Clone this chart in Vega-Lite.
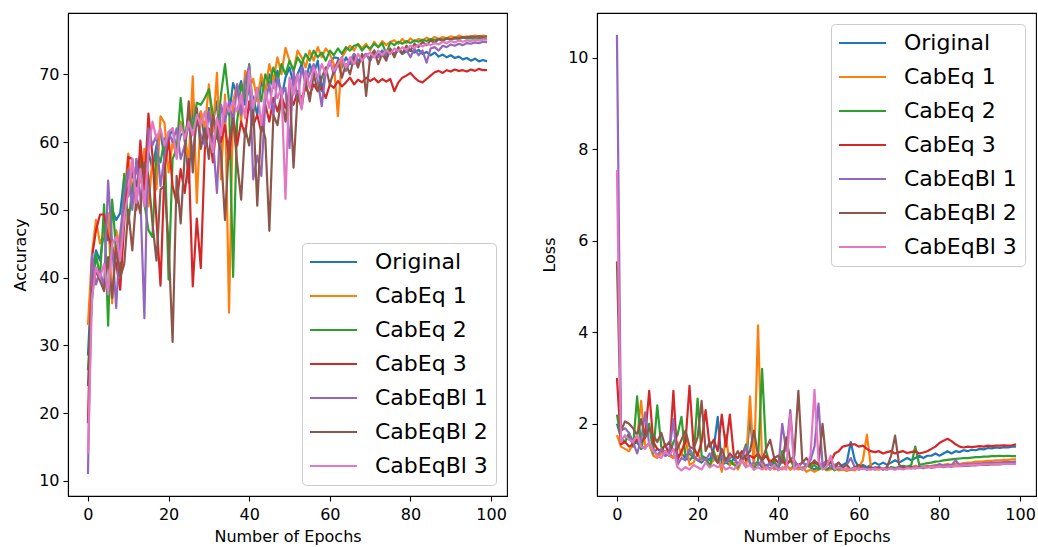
{
"$schema":"https://vega.github.io/schema/vega-lite/v6.json",
"padding":{"left":12,"top":12,"right":2,"bottom":2},
"spacing":33,
"config":{
"font":"DejaVu Sans",
"view":{"stroke":"#000000","strokeWidth":1.1},
"axis":{"domainColor":"#000000","domainWidth":1.1,"tickColor":"#000000","tickWidth":1.1,"tickSize":5,"labelColor":"#000000","titleColor":"#000000","labelFont":"DejaVu Sans","titleFont":"DejaVu Sans","labelFontSize":16,"titleFontSize":16,"titleFontWeight":"normal","grid":false},
"axisX":{"labelPadding":5,"titlePadding":6},
"axisY":{"labelPadding":4,"titlePadding":10}
},
"data":{"values":[
{"s":"Original","e":0,"a":28.5,"l":2},{"s":"Original","e":1,"a":40.5,"l":1.7},{"s":"Original","e":2,"a":44,"l":1.6},{"s":"Original","e":3,"a":42.5,"l":1.75},{"s":"Original","e":4,"a":47,"l":1.55},{"s":"Original","e":5,"a":45.5,"l":1.6},{"s":"Original","e":6,"a":50,"l":1.45},{"s":"Original","e":7,"a":48.5,"l":1.5},{"s":"Original","e":8,"a":49.5,"l":1.55},{"s":"Original","e":9,"a":55,"l":1.35},
{"s":"Original","e":10,"a":52,"l":1.45},{"s":"Original","e":11,"a":55.5,"l":1.4},{"s":"Original","e":12,"a":53.5,"l":1.3},{"s":"Original","e":13,"a":57,"l":1.35},{"s":"Original","e":14,"a":55,"l":1.25},{"s":"Original","e":15,"a":58.5,"l":1.3},{"s":"Original","e":16,"a":56,"l":1.35},{"s":"Original","e":17,"a":59.5,"l":1.25},{"s":"Original","e":18,"a":61.5,"l":1.2},{"s":"Original","e":19,"a":57.5,"l":1.3},
{"s":"Original","e":20,"a":60.5,"l":1.2},{"s":"Original","e":21,"a":62,"l":1.15},{"s":"Original","e":22,"a":58.5,"l":1.25},{"s":"Original","e":23,"a":61,"l":1.2},{"s":"Original","e":24,"a":61.5,"l":1.45},{"s":"Original","e":25,"a":54,"l":2.15},{"s":"Original","e":26,"a":66.5,"l":1.1},{"s":"Original","e":27,"a":62.5,"l":1.15},{"s":"Original","e":28,"a":64.5,"l":1.1},{"s":"Original","e":29,"a":60,"l":1.25},
{"s":"Original","e":30,"a":65,"l":1.1},{"s":"Original","e":31,"a":63,"l":1.2},{"s":"Original","e":32,"a":66,"l":1.05},{"s":"Original","e":33,"a":57,"l":2.2},{"s":"Original","e":34,"a":65.5,"l":1.1},{"s":"Original","e":35,"a":64,"l":1.15},{"s":"Original","e":36,"a":68.7,"l":1.05},{"s":"Original","e":37,"a":67,"l":1.1},{"s":"Original","e":38,"a":69,"l":1},{"s":"Original","e":39,"a":65.5,"l":1.15},
{"s":"Original","e":40,"a":68,"l":1.05},{"s":"Original","e":41,"a":66.5,"l":1.2},{"s":"Original","e":42,"a":64,"l":1.1},{"s":"Original","e":43,"a":69,"l":1},{"s":"Original","e":44,"a":67.5,"l":1.1},{"s":"Original","e":45,"a":70,"l":1.05},{"s":"Original","e":46,"a":68,"l":1},{"s":"Original","e":47,"a":70.5,"l":1.1},{"s":"Original","e":48,"a":66.5,"l":1.05},{"s":"Original","e":49,"a":69.5,"l":1},
{"s":"Original","e":50,"a":71,"l":1.05},{"s":"Original","e":51,"a":68.5,"l":1.1},{"s":"Original","e":52,"a":70,"l":1},{"s":"Original","e":53,"a":71.5,"l":1.05},{"s":"Original","e":54,"a":69,"l":1.1},{"s":"Original","e":55,"a":71.5,"l":1.05},{"s":"Original","e":56,"a":70,"l":1.1},{"s":"Original","e":57,"a":72,"l":1.15},{"s":"Original","e":58,"a":67.5,"l":1.6},{"s":"Original","e":59,"a":70.5,"l":1.2},
{"s":"Original","e":60,"a":71.5,"l":1.05},{"s":"Original","e":61,"a":72.5,"l":1.1},{"s":"Original","e":62,"a":72.4,"l":1.05},{"s":"Original","e":63,"a":71,"l":1.1},{"s":"Original","e":64,"a":72.5,"l":1.15},{"s":"Original","e":65,"a":71.5,"l":1.1},{"s":"Original","e":66,"a":73,"l":1.15},{"s":"Original","e":67,"a":72,"l":1.1},{"s":"Original","e":68,"a":72.5,"l":1.15},{"s":"Original","e":69,"a":73,"l":1.2},
{"s":"Original","e":70,"a":72,"l":1.15},{"s":"Original","e":71,"a":73.2,"l":1.2},{"s":"Original","e":72,"a":72.8,"l":1.25},{"s":"Original","e":73,"a":73.5,"l":1.2},{"s":"Original","e":74,"a":72.5,"l":1.25},{"s":"Original","e":75,"a":73.3,"l":1.3},{"s":"Original","e":76,"a":73,"l":1.25},{"s":"Original","e":77,"a":73.6,"l":1.3},{"s":"Original","e":78,"a":73,"l":1.3},{"s":"Original","e":79,"a":73.4,"l":1.35},
{"s":"Original","e":80,"a":73.5,"l":1.3},{"s":"Original","e":81,"a":73.2,"l":1.35},{"s":"Original","e":82,"a":73.6,"l":1.4},{"s":"Original","e":83,"a":73,"l":1.35},{"s":"Original","e":84,"a":73.3,"l":1.4},{"s":"Original","e":85,"a":72.8,"l":1.38},{"s":"Original","e":86,"a":73.2,"l":1.42},{"s":"Original","e":87,"a":72.6,"l":1.4},{"s":"Original","e":88,"a":72.9,"l":1.43},{"s":"Original","e":89,"a":72.5,"l":1.42},
{"s":"Original","e":90,"a":72.8,"l":1.45},{"s":"Original","e":91,"a":72.4,"l":1.44},{"s":"Original","e":92,"a":72.6,"l":1.47},{"s":"Original","e":93,"a":72.2,"l":1.46},{"s":"Original","e":94,"a":72.4,"l":1.48},{"s":"Original","e":95,"a":72,"l":1.47},{"s":"Original","e":96,"a":72.3,"l":1.49},{"s":"Original","e":97,"a":71.9,"l":1.48},{"s":"Original","e":98,"a":72.1,"l":1.5},{"s":"Original","e":99,"a":71.9,"l":1.5},
{"s":"CabEq 1","e":0,"a":33,"l":1.75},{"s":"CabEq 1","e":1,"a":43.5,"l":1.5},{"s":"CabEq 1","e":2,"a":48.5,"l":1.45},{"s":"CabEq 1","e":3,"a":45,"l":1.4},{"s":"CabEq 1","e":4,"a":46.5,"l":1.55},{"s":"CabEq 1","e":5,"a":49.5,"l":1.7},{"s":"CabEq 1","e":6,"a":36.2,"l":2.5},{"s":"CabEq 1","e":7,"a":47,"l":1.5},{"s":"CabEq 1","e":8,"a":44.5,"l":1.55},{"s":"CabEq 1","e":9,"a":52,"l":1.3},
{"s":"CabEq 1","e":10,"a":58.3,"l":1.25},{"s":"CabEq 1","e":11,"a":52.5,"l":1.35},{"s":"CabEq 1","e":12,"a":56,"l":1.4},{"s":"CabEq 1","e":13,"a":54,"l":1.3},{"s":"CabEq 1","e":14,"a":59,"l":1.25},{"s":"CabEq 1","e":15,"a":50.5,"l":1.6},{"s":"CabEq 1","e":16,"a":57.5,"l":1.3},{"s":"CabEq 1","e":17,"a":53,"l":1.75},{"s":"CabEq 1","e":18,"a":63.8,"l":1.1},{"s":"CabEq 1","e":19,"a":62.8,"l":1.15},
{"s":"CabEq 1","e":20,"a":55.5,"l":1.35},{"s":"CabEq 1","e":21,"a":60,"l":1.2},{"s":"CabEq 1","e":22,"a":58,"l":1.25},{"s":"CabEq 1","e":23,"a":63,"l":1.1},{"s":"CabEq 1","e":24,"a":61,"l":1.2},{"s":"CabEq 1","e":25,"a":57,"l":1.3},{"s":"CabEq 1","e":26,"a":69.7,"l":0.95},{"s":"CabEq 1","e":27,"a":51,"l":1.75},{"s":"CabEq 1","e":28,"a":64.5,"l":1.1},{"s":"CabEq 1","e":29,"a":62,"l":1.15},
{"s":"CabEq 1","e":30,"a":68.5,"l":1},{"s":"CabEq 1","e":31,"a":61.5,"l":1.2},{"s":"CabEq 1","e":32,"a":70.2,"l":1.1},{"s":"CabEq 1","e":33,"a":54.5,"l":2.6},{"s":"CabEq 1","e":34,"a":67,"l":1.05},{"s":"CabEq 1","e":35,"a":34.8,"l":4.15},{"s":"CabEq 1","e":36,"a":66,"l":1.1},{"s":"CabEq 1","e":37,"a":68.5,"l":1},{"s":"CabEq 1","e":38,"a":63,"l":1.2},{"s":"CabEq 1","e":39,"a":70.5,"l":1},
{"s":"CabEq 1","e":40,"a":68,"l":1.05},{"s":"CabEq 1","e":41,"a":69.3,"l":1},{"s":"CabEq 1","e":42,"a":66,"l":1.1},{"s":"CabEq 1","e":43,"a":70,"l":1},{"s":"CabEq 1","e":44,"a":67.5,"l":1.05},{"s":"CabEq 1","e":45,"a":71.5,"l":1},{"s":"CabEq 1","e":46,"a":69,"l":1.05},{"s":"CabEq 1","e":47,"a":72.5,"l":0.95},{"s":"CabEq 1","e":48,"a":70,"l":1},{"s":"CabEq 1","e":49,"a":73.9,"l":0.95},
{"s":"CabEq 1","e":50,"a":72,"l":1},{"s":"CabEq 1","e":51,"a":70.5,"l":1.05},{"s":"CabEq 1","e":52,"a":73.5,"l":0.98},{"s":"CabEq 1","e":53,"a":72.5,"l":1},{"s":"CabEq 1","e":54,"a":71,"l":1.05},{"s":"CabEq 1","e":55,"a":73.5,"l":0.98},{"s":"CabEq 1","e":56,"a":72,"l":1},{"s":"CabEq 1","e":57,"a":74,"l":0.97},{"s":"CabEq 1","e":58,"a":72.5,"l":1},{"s":"CabEq 1","e":59,"a":73.8,"l":0.98},
{"s":"CabEq 1","e":60,"a":73,"l":1.05},{"s":"CabEq 1","e":61,"a":71.5,"l":1.2},{"s":"CabEq 1","e":62,"a":63.8,"l":1.76},{"s":"CabEq 1","e":63,"a":72.5,"l":1.05},{"s":"CabEq 1","e":64,"a":73.5,"l":1},{"s":"CabEq 1","e":65,"a":74.2,"l":1},{"s":"CabEq 1","e":66,"a":73.5,"l":1.02},{"s":"CabEq 1","e":67,"a":74.5,"l":1},{"s":"CabEq 1","e":68,"a":73.8,"l":1.05},{"s":"CabEq 1","e":69,"a":74.5,"l":1.02},
{"s":"CabEq 1","e":70,"a":73.5,"l":1.05},{"s":"CabEq 1","e":71,"a":74.8,"l":1.03},{"s":"CabEq 1","e":72,"a":74,"l":1.06},{"s":"CabEq 1","e":73,"a":74.9,"l":1.05},{"s":"CabEq 1","e":74,"a":74.3,"l":1.08},{"s":"CabEq 1","e":75,"a":74.8,"l":1.06},{"s":"CabEq 1","e":76,"a":75,"l":1.05},{"s":"CabEq 1","e":77,"a":74.5,"l":1.08},{"s":"CabEq 1","e":78,"a":75.2,"l":1.07},{"s":"CabEq 1","e":79,"a":74.6,"l":1.1},
{"s":"CabEq 1","e":80,"a":75.3,"l":1.08},{"s":"CabEq 1","e":81,"a":74.8,"l":1.1},{"s":"CabEq 1","e":82,"a":75.2,"l":1.12},{"s":"CabEq 1","e":83,"a":75,"l":1.1},{"s":"CabEq 1","e":84,"a":75.4,"l":1.13},{"s":"CabEq 1","e":85,"a":75.1,"l":1.12},{"s":"CabEq 1","e":86,"a":75.5,"l":1.14},{"s":"CabEq 1","e":87,"a":75.2,"l":1.15},{"s":"CabEq 1","e":88,"a":75.5,"l":1.15},{"s":"CabEq 1","e":89,"a":75.3,"l":1.17},
{"s":"CabEq 1","e":90,"a":75.6,"l":1.17},{"s":"CabEq 1","e":91,"a":75.4,"l":1.18},{"s":"CabEq 1","e":92,"a":75.7,"l":1.19},{"s":"CabEq 1","e":93,"a":75.5,"l":1.19},{"s":"CabEq 1","e":94,"a":75.6,"l":1.2},{"s":"CabEq 1","e":95,"a":75.5,"l":1.2},{"s":"CabEq 1","e":96,"a":75.7,"l":1.21},{"s":"CabEq 1","e":97,"a":75.6,"l":1.21},{"s":"CabEq 1","e":98,"a":75.7,"l":1.22},{"s":"CabEq 1","e":99,"a":75.6,"l":1.22},
{"s":"CabEq 2","e":0,"a":26.3,"l":2.2},{"s":"CabEq 2","e":1,"a":36.5,"l":1.65},{"s":"CabEq 2","e":2,"a":43.5,"l":1.6},{"s":"CabEq 2","e":3,"a":40,"l":1.8},{"s":"CabEq 2","e":4,"a":50.8,"l":1.5},{"s":"CabEq 2","e":5,"a":32.9,"l":2.6},{"s":"CabEq 2","e":6,"a":51.5,"l":1.45},{"s":"CabEq 2","e":7,"a":44,"l":1.85},{"s":"CabEq 2","e":8,"a":40.5,"l":2},{"s":"CabEq 2","e":9,"a":55.3,"l":1.35},
{"s":"CabEq 2","e":10,"a":48,"l":2.4},{"s":"CabEq 2","e":11,"a":53,"l":1.5},{"s":"CabEq 2","e":12,"a":56.5,"l":1.35},{"s":"CabEq 2","e":13,"a":58,"l":1.3},{"s":"CabEq 2","e":14,"a":51,"l":1.6},{"s":"CabEq 2","e":15,"a":47,"l":1.75},{"s":"CabEq 2","e":16,"a":46,"l":2.15},{"s":"CabEq 2","e":17,"a":58.5,"l":1.3},{"s":"CabEq 2","e":18,"a":57,"l":1.35},{"s":"CabEq 2","e":19,"a":60.5,"l":1.25},
{"s":"CabEq 2","e":20,"a":39.7,"l":2.55},{"s":"CabEq 2","e":21,"a":57.5,"l":1.3},{"s":"CabEq 2","e":22,"a":59,"l":1.25},{"s":"CabEq 2","e":23,"a":66.5,"l":1.05},{"s":"CabEq 2","e":24,"a":60,"l":1.4},{"s":"CabEq 2","e":25,"a":64.5,"l":1.15},{"s":"CabEq 2","e":26,"a":62,"l":1.3},{"s":"CabEq 2","e":27,"a":65.8,"l":1.15},{"s":"CabEq 2","e":28,"a":65.5,"l":1.2},{"s":"CabEq 2","e":29,"a":66.5,"l":1.1},
{"s":"CabEq 2","e":30,"a":67.8,"l":1.05},{"s":"CabEq 2","e":31,"a":64,"l":1.3},{"s":"CabEq 2","e":32,"a":60.5,"l":1.55},{"s":"CabEq 2","e":33,"a":67,"l":1.15},{"s":"CabEq 2","e":34,"a":71.5,"l":1},{"s":"CabEq 2","e":35,"a":66,"l":1.2},{"s":"CabEq 2","e":36,"a":40.1,"l":3.2},{"s":"CabEq 2","e":37,"a":63,"l":1.4},{"s":"CabEq 2","e":38,"a":68.5,"l":1.1},{"s":"CabEq 2","e":39,"a":66.5,"l":1.2},
{"s":"CabEq 2","e":40,"a":71.5,"l":1},{"s":"CabEq 2","e":41,"a":64.5,"l":1.4},{"s":"CabEq 2","e":42,"a":68,"l":1.1},{"s":"CabEq 2","e":43,"a":66,"l":1.2},{"s":"CabEq 2","e":44,"a":70,"l":1.05},{"s":"CabEq 2","e":45,"a":68.5,"l":1.1},{"s":"CabEq 2","e":46,"a":71,"l":1},{"s":"CabEq 2","e":47,"a":69,"l":1.1},{"s":"CabEq 2","e":48,"a":71.5,"l":1.05},{"s":"CabEq 2","e":49,"a":70,"l":1.1},
{"s":"CabEq 2","e":50,"a":72,"l":1},{"s":"CabEq 2","e":51,"a":70.5,"l":1.05},{"s":"CabEq 2","e":52,"a":72.5,"l":1},{"s":"CabEq 2","e":53,"a":71.5,"l":1.05},{"s":"CabEq 2","e":54,"a":73,"l":0.98},{"s":"CabEq 2","e":55,"a":72,"l":1.03},{"s":"CabEq 2","e":56,"a":73.5,"l":1},{"s":"CabEq 2","e":57,"a":72.5,"l":1.02},{"s":"CabEq 2","e":58,"a":73.2,"l":1},{"s":"CabEq 2","e":59,"a":72,"l":1.05},
{"s":"CabEq 2","e":60,"a":73.5,"l":1},{"s":"CabEq 2","e":61,"a":72.8,"l":1.05},{"s":"CabEq 2","e":62,"a":73.8,"l":1},{"s":"CabEq 2","e":63,"a":73,"l":1.03},{"s":"CabEq 2","e":64,"a":74,"l":1},{"s":"CabEq 2","e":65,"a":73.5,"l":1.05},{"s":"CabEq 2","e":66,"a":74.2,"l":1.02},{"s":"CabEq 2","e":67,"a":74.4,"l":1},{"s":"CabEq 2","e":68,"a":73.5,"l":1.05},{"s":"CabEq 2","e":69,"a":74.2,"l":1.03},
{"s":"CabEq 2","e":70,"a":73.8,"l":1.05},{"s":"CabEq 2","e":71,"a":74.5,"l":1.08},{"s":"CabEq 2","e":72,"a":74,"l":1.06},{"s":"CabEq 2","e":73,"a":74.6,"l":1.1},{"s":"CabEq 2","e":74,"a":73,"l":1.5},{"s":"CabEq 2","e":75,"a":74.7,"l":1.1},{"s":"CabEq 2","e":76,"a":74.3,"l":1.12},{"s":"CabEq 2","e":77,"a":74.8,"l":1.14},{"s":"CabEq 2","e":78,"a":74.5,"l":1.15},{"s":"CabEq 2","e":79,"a":74.9,"l":1.17},
{"s":"CabEq 2","e":80,"a":74.6,"l":1.18},{"s":"CabEq 2","e":81,"a":75,"l":1.2},{"s":"CabEq 2","e":82,"a":74.8,"l":1.21},{"s":"CabEq 2","e":83,"a":75.1,"l":1.22},{"s":"CabEq 2","e":84,"a":74.9,"l":1.23},{"s":"CabEq 2","e":85,"a":75.2,"l":1.24},{"s":"CabEq 2","e":86,"a":75,"l":1.25},{"s":"CabEq 2","e":87,"a":75.2,"l":1.25},{"s":"CabEq 2","e":88,"a":75.1,"l":1.26},{"s":"CabEq 2","e":89,"a":75.3,"l":1.27},
{"s":"CabEq 2","e":90,"a":75.2,"l":1.27},{"s":"CabEq 2","e":91,"a":75.3,"l":1.28},{"s":"CabEq 2","e":92,"a":75.2,"l":1.28},{"s":"CabEq 2","e":93,"a":75.4,"l":1.29},{"s":"CabEq 2","e":94,"a":75.3,"l":1.29},{"s":"CabEq 2","e":95,"a":75.3,"l":1.3},{"s":"CabEq 2","e":96,"a":75.2,"l":1.29},{"s":"CabEq 2","e":97,"a":75.3,"l":1.3},{"s":"CabEq 2","e":98,"a":75.2,"l":1.29},{"s":"CabEq 2","e":99,"a":75.2,"l":1.29},
{"s":"CabEq 3","e":0,"a":18.5,"l":3},{"s":"CabEq 3","e":1,"a":43,"l":1.55},{"s":"CabEq 3","e":2,"a":47,"l":1.6},{"s":"CabEq 3","e":3,"a":49.3,"l":1.5},{"s":"CabEq 3","e":4,"a":49.3,"l":1.55},{"s":"CabEq 3","e":5,"a":46,"l":1.65},{"s":"CabEq 3","e":6,"a":44.5,"l":1.6},{"s":"CabEq 3","e":7,"a":42,"l":1.7},{"s":"CabEq 3","e":8,"a":38.2,"l":2.72},{"s":"CabEq 3","e":9,"a":48,"l":1.6},
{"s":"CabEq 3","e":10,"a":57.8,"l":1.45},{"s":"CabEq 3","e":11,"a":57.5,"l":1.4},{"s":"CabEq 3","e":12,"a":50,"l":1.55},{"s":"CabEq 3","e":13,"a":60.2,"l":1.3},{"s":"CabEq 3","e":14,"a":53,"l":2.72},{"s":"CabEq 3","e":15,"a":64.2,"l":1.2},{"s":"CabEq 3","e":16,"a":58,"l":1.4},{"s":"CabEq 3","e":17,"a":48.5,"l":1.6},{"s":"CabEq 3","e":18,"a":38.8,"l":2.83},{"s":"CabEq 3","e":19,"a":56,"l":1.5},
{"s":"CabEq 3","e":20,"a":60.5,"l":1.3},{"s":"CabEq 3","e":21,"a":53.5,"l":1.6},{"s":"CabEq 3","e":22,"a":51,"l":2.3},{"s":"CabEq 3","e":23,"a":56,"l":1.5},{"s":"CabEq 3","e":24,"a":52.5,"l":1.65},{"s":"CabEq 3","e":25,"a":57.5,"l":1.4},{"s":"CabEq 3","e":26,"a":38.7,"l":2.2},{"s":"CabEq 3","e":27,"a":48.7,"l":1.5},{"s":"CabEq 3","e":28,"a":41.4,"l":2.2},{"s":"CabEq 3","e":29,"a":59,"l":1.3},
{"s":"CabEq 3","e":30,"a":62,"l":1.25},{"s":"CabEq 3","e":31,"a":57,"l":1.4},{"s":"CabEq 3","e":32,"a":63.5,"l":1.2},{"s":"CabEq 3","e":33,"a":60,"l":1.3},{"s":"CabEq 3","e":34,"a":62.5,"l":1.25},{"s":"CabEq 3","e":35,"a":57.5,"l":1.35},{"s":"CabEq 3","e":36,"a":64,"l":1.2},{"s":"CabEq 3","e":37,"a":59.5,"l":1.3},{"s":"CabEq 3","e":38,"a":63,"l":1.15},{"s":"CabEq 3","e":39,"a":61,"l":1.25},
{"s":"CabEq 3","e":40,"a":66,"l":1.15},{"s":"CabEq 3","e":41,"a":62.5,"l":1.2},{"s":"CabEq 3","e":42,"a":64,"l":1.1},{"s":"CabEq 3","e":43,"a":61.5,"l":1.2},{"s":"CabEq 3","e":44,"a":65.5,"l":1.15},{"s":"CabEq 3","e":45,"a":63,"l":1.1},{"s":"CabEq 3","e":46,"a":66.5,"l":1.15},{"s":"CabEq 3","e":47,"a":64.5,"l":1.1},{"s":"CabEq 3","e":48,"a":66.8,"l":1.12},{"s":"CabEq 3","e":49,"a":65,"l":1.15},
{"s":"CabEq 3","e":50,"a":67,"l":1.1},{"s":"CabEq 3","e":51,"a":65.5,"l":1.12},{"s":"CabEq 3","e":52,"a":67.5,"l":1.1},{"s":"CabEq 3","e":53,"a":66.5,"l":1.15},{"s":"CabEq 3","e":54,"a":68,"l":1.35},{"s":"CabEq 3","e":55,"a":67,"l":1.4},{"s":"CabEq 3","e":56,"a":68.5,"l":1.5},{"s":"CabEq 3","e":57,"a":67.5,"l":1.52},{"s":"CabEq 3","e":58,"a":68,"l":1.55},{"s":"CabEq 3","e":59,"a":66.5,"l":1.55},
{"s":"CabEq 3","e":60,"a":68.5,"l":1.5},{"s":"CabEq 3","e":61,"a":68,"l":1.52},{"s":"CabEq 3","e":62,"a":69,"l":1.45},{"s":"CabEq 3","e":63,"a":68.2,"l":1.4},{"s":"CabEq 3","e":64,"a":68.8,"l":1.38},{"s":"CabEq 3","e":65,"a":69.5,"l":1.4},{"s":"CabEq 3","e":66,"a":68.5,"l":1.35},{"s":"CabEq 3","e":67,"a":69.2,"l":1.38},{"s":"CabEq 3","e":68,"a":68.8,"l":1.4},{"s":"CabEq 3","e":69,"a":69.5,"l":1.35},
{"s":"CabEq 3","e":70,"a":69,"l":1.38},{"s":"CabEq 3","e":71,"a":69.4,"l":1.4},{"s":"CabEq 3","e":72,"a":68.8,"l":1.36},{"s":"CabEq 3","e":73,"a":69.3,"l":1.38},{"s":"CabEq 3","e":74,"a":68.9,"l":1.4},{"s":"CabEq 3","e":75,"a":69.3,"l":1.35},{"s":"CabEq 3","e":76,"a":67.5,"l":1.37},{"s":"CabEq 3","e":77,"a":68.8,"l":1.4},{"s":"CabEq 3","e":78,"a":69.5,"l":1.45},{"s":"CabEq 3","e":79,"a":69.8,"l":1.5},
{"s":"CabEq 3","e":80,"a":70.2,"l":1.58},{"s":"CabEq 3","e":81,"a":69.5,"l":1.63},{"s":"CabEq 3","e":82,"a":69,"l":1.67},{"s":"CabEq 3","e":83,"a":68.8,"l":1.62},{"s":"CabEq 3","e":84,"a":69.3,"l":1.55},{"s":"CabEq 3","e":85,"a":69.8,"l":1.5},{"s":"CabEq 3","e":86,"a":70.3,"l":1.48},{"s":"CabEq 3","e":87,"a":70.5,"l":1.5},{"s":"CabEq 3","e":88,"a":70.2,"l":1.49},{"s":"CabEq 3","e":89,"a":70.6,"l":1.5},
{"s":"CabEq 3","e":90,"a":70.4,"l":1.51},{"s":"CabEq 3","e":91,"a":70.7,"l":1.5},{"s":"CabEq 3","e":92,"a":70.5,"l":1.52},{"s":"CabEq 3","e":93,"a":70.6,"l":1.51},{"s":"CabEq 3","e":94,"a":70.4,"l":1.52},{"s":"CabEq 3","e":95,"a":70.7,"l":1.52},{"s":"CabEq 3","e":96,"a":70.5,"l":1.53},{"s":"CabEq 3","e":97,"a":70.8,"l":1.52},{"s":"CabEq 3","e":98,"a":70.6,"l":1.53},{"s":"CabEq 3","e":99,"a":70.6,"l":1.55},
{"s":"CabEqBl 1","e":0,"a":11,"l":10.5},{"s":"CabEqBl 1","e":1,"a":43.5,"l":1.85},{"s":"CabEqBl 1","e":2,"a":39,"l":1.9},{"s":"CabEqBl 1","e":3,"a":41,"l":1.8},{"s":"CabEqBl 1","e":4,"a":38.5,"l":1.6},{"s":"CabEqBl 1","e":5,"a":54.3,"l":1.35},{"s":"CabEqBl 1","e":6,"a":45,"l":1.65},{"s":"CabEqBl 1","e":7,"a":35.5,"l":2.25},{"s":"CabEqBl 1","e":8,"a":46.5,"l":1.55},{"s":"CabEqBl 1","e":9,"a":52,"l":1.45},
{"s":"CabEqBl 1","e":10,"a":56,"l":1.3},{"s":"CabEqBl 1","e":11,"a":50,"l":1.45},{"s":"CabEqBl 1","e":12,"a":57.5,"l":1.3},{"s":"CabEqBl 1","e":13,"a":52,"l":1.4},{"s":"CabEqBl 1","e":14,"a":34,"l":2.1},{"s":"CabEqBl 1","e":15,"a":62,"l":1.1},{"s":"CabEqBl 1","e":16,"a":59.5,"l":1.25},{"s":"CabEqBl 1","e":17,"a":61,"l":1.2},{"s":"CabEqBl 1","e":18,"a":53.5,"l":1.45},{"s":"CabEqBl 1","e":19,"a":58,"l":1.3},
{"s":"CabEqBl 1","e":20,"a":61.5,"l":1.2},{"s":"CabEqBl 1","e":21,"a":60,"l":1.25},{"s":"CabEqBl 1","e":22,"a":62,"l":1.2},{"s":"CabEqBl 1","e":23,"a":57.5,"l":1.35},{"s":"CabEqBl 1","e":24,"a":59.5,"l":1.25},{"s":"CabEqBl 1","e":25,"a":63,"l":1.15},{"s":"CabEqBl 1","e":26,"a":58,"l":1.3},{"s":"CabEqBl 1","e":27,"a":63.5,"l":1.15},{"s":"CabEqBl 1","e":28,"a":61,"l":1.25},{"s":"CabEqBl 1","e":29,"a":59.5,"l":1.3},
{"s":"CabEqBl 1","e":30,"a":64.5,"l":1.1},{"s":"CabEqBl 1","e":31,"a":60.5,"l":1.25},{"s":"CabEqBl 1","e":32,"a":52.5,"l":1.5},{"s":"CabEqBl 1","e":33,"a":65.5,"l":1.1},{"s":"CabEqBl 1","e":34,"a":63,"l":1.15},{"s":"CabEqBl 1","e":35,"a":66,"l":1.1},{"s":"CabEqBl 1","e":36,"a":62.5,"l":1.2},{"s":"CabEqBl 1","e":37,"a":68.5,"l":1.05},{"s":"CabEqBl 1","e":38,"a":64,"l":1.15},{"s":"CabEqBl 1","e":39,"a":69,"l":1.05},
{"s":"CabEqBl 1","e":40,"a":71.2,"l":1},{"s":"CabEqBl 1","e":41,"a":54.5,"l":2},{"s":"CabEqBl 1","e":42,"a":58,"l":1.4},{"s":"CabEqBl 1","e":43,"a":55,"l":2.3},{"s":"CabEqBl 1","e":44,"a":66,"l":1.2},{"s":"CabEqBl 1","e":45,"a":68.5,"l":1.05},{"s":"CabEqBl 1","e":46,"a":64,"l":1.15},{"s":"CabEqBl 1","e":47,"a":69.5,"l":1.1},{"s":"CabEqBl 1","e":48,"a":67,"l":1.2},{"s":"CabEqBl 1","e":49,"a":68,"l":1.5},
{"s":"CabEqBl 1","e":50,"a":59.1,"l":2.44},{"s":"CabEqBl 1","e":51,"a":70.5,"l":1.1},{"s":"CabEqBl 1","e":52,"a":66,"l":1.2},{"s":"CabEqBl 1","e":53,"a":71,"l":1.05},{"s":"CabEqBl 1","e":54,"a":68.5,"l":1.1},{"s":"CabEqBl 1","e":55,"a":70,"l":1.15},{"s":"CabEqBl 1","e":56,"a":71.5,"l":1.05},{"s":"CabEqBl 1","e":57,"a":69,"l":1.1},{"s":"CabEqBl 1","e":58,"a":65.3,"l":1.25},{"s":"CabEqBl 1","e":59,"a":70.5,"l":1.05},
{"s":"CabEqBl 1","e":60,"a":72,"l":1},{"s":"CabEqBl 1","e":61,"a":70,"l":1.05},{"s":"CabEqBl 1","e":62,"a":71.5,"l":1.02},{"s":"CabEqBl 1","e":63,"a":72.5,"l":1},{"s":"CabEqBl 1","e":64,"a":70.5,"l":1.05},{"s":"CabEqBl 1","e":65,"a":72,"l":1.03},{"s":"CabEqBl 1","e":66,"a":73,"l":1},{"s":"CabEqBl 1","e":67,"a":71.5,"l":1.05},{"s":"CabEqBl 1","e":68,"a":72.5,"l":1.02},{"s":"CabEqBl 1","e":69,"a":73,"l":1},
{"s":"CabEqBl 1","e":70,"a":72,"l":1.05},{"s":"CabEqBl 1","e":71,"a":73.5,"l":1.02},{"s":"CabEqBl 1","e":72,"a":72.5,"l":1.05},{"s":"CabEqBl 1","e":73,"a":73.2,"l":1.03},{"s":"CabEqBl 1","e":74,"a":72.8,"l":1.06},{"s":"CabEqBl 1","e":75,"a":73.5,"l":1.05},{"s":"CabEqBl 1","e":76,"a":73,"l":1.07},{"s":"CabEqBl 1","e":77,"a":73.8,"l":1.05},{"s":"CabEqBl 1","e":78,"a":73.2,"l":1.08},{"s":"CabEqBl 1","e":79,"a":73.6,"l":1.07},
{"s":"CabEqBl 1","e":80,"a":72.5,"l":1.12},{"s":"CabEqBl 1","e":81,"a":73.8,"l":1.08},{"s":"CabEqBl 1","e":82,"a":72.8,"l":1.1},{"s":"CabEqBl 1","e":83,"a":73.5,"l":1.09},{"s":"CabEqBl 1","e":84,"a":71.7,"l":1.2},{"s":"CabEqBl 1","e":85,"a":73.8,"l":1.1},{"s":"CabEqBl 1","e":86,"a":74,"l":1.11},{"s":"CabEqBl 1","e":87,"a":73.5,"l":1.12},{"s":"CabEqBl 1","e":88,"a":74.2,"l":1.12},{"s":"CabEqBl 1","e":89,"a":74,"l":1.13},
{"s":"CabEqBl 1","e":90,"a":74.4,"l":1.13},{"s":"CabEqBl 1","e":91,"a":74.2,"l":1.14},{"s":"CabEqBl 1","e":92,"a":74.5,"l":1.14},{"s":"CabEqBl 1","e":93,"a":74.3,"l":1.15},{"s":"CabEqBl 1","e":94,"a":74.6,"l":1.15},{"s":"CabEqBl 1","e":95,"a":74.5,"l":1.15},{"s":"CabEqBl 1","e":96,"a":74.7,"l":1.16},{"s":"CabEqBl 1","e":97,"a":74.6,"l":1.16},{"s":"CabEqBl 1","e":98,"a":74.8,"l":1.16},{"s":"CabEqBl 1","e":99,"a":74.7,"l":1.17},
{"s":"CabEqBl 2","e":0,"a":24,"l":5.55},{"s":"CabEqBl 2","e":1,"a":38,"l":1.85},{"s":"CabEqBl 2","e":2,"a":41,"l":2.05},{"s":"CabEqBl 2","e":3,"a":39.5,"l":2},{"s":"CabEqBl 2","e":4,"a":38,"l":1.9},{"s":"CabEqBl 2","e":5,"a":43,"l":1.75},{"s":"CabEqBl 2","e":6,"a":37,"l":2.1},{"s":"CabEqBl 2","e":7,"a":44.5,"l":1.7},{"s":"CabEqBl 2","e":8,"a":40,"l":1.9},{"s":"CabEqBl 2","e":9,"a":42,"l":1.75},
{"s":"CabEqBl 2","e":10,"a":50,"l":1.6},{"s":"CabEqBl 2","e":11,"a":44,"l":1.8},{"s":"CabEqBl 2","e":12,"a":52,"l":1.5},{"s":"CabEqBl 2","e":13,"a":49.5,"l":1.6},{"s":"CabEqBl 2","e":14,"a":57,"l":1.4},{"s":"CabEqBl 2","e":15,"a":55,"l":1.45},{"s":"CabEqBl 2","e":16,"a":48,"l":1.65},{"s":"CabEqBl 2","e":17,"a":42.5,"l":1.85},{"s":"CabEqBl 2","e":18,"a":53,"l":1.5},{"s":"CabEqBl 2","e":19,"a":53.5,"l":1.45},
{"s":"CabEqBl 2","e":20,"a":45,"l":1.7},{"s":"CabEqBl 2","e":21,"a":30.5,"l":2.5},{"s":"CabEqBl 2","e":22,"a":55,"l":1.4},{"s":"CabEqBl 2","e":23,"a":48,"l":1.6},{"s":"CabEqBl 2","e":24,"a":58,"l":1.3},{"s":"CabEqBl 2","e":25,"a":66,"l":1.15},{"s":"CabEqBl 2","e":26,"a":55.5,"l":1.45},{"s":"CabEqBl 2","e":27,"a":65,"l":1.2},{"s":"CabEqBl 2","e":28,"a":59,"l":1.35},{"s":"CabEqBl 2","e":29,"a":62,"l":1.25},
{"s":"CabEqBl 2","e":30,"a":57.5,"l":1.4},{"s":"CabEqBl 2","e":31,"a":64,"l":1.2},{"s":"CabEqBl 2","e":32,"a":61,"l":1.3},{"s":"CabEqBl 2","e":33,"a":58.5,"l":1.4},{"s":"CabEqBl 2","e":34,"a":48.5,"l":1.85},{"s":"CabEqBl 2","e":35,"a":60,"l":1.3},{"s":"CabEqBl 2","e":36,"a":63.5,"l":1.2},{"s":"CabEqBl 2","e":37,"a":57,"l":1.45},{"s":"CabEqBl 2","e":38,"a":51.5,"l":1.65},{"s":"CabEqBl 2","e":39,"a":62,"l":1.25},
{"s":"CabEqBl 2","e":40,"a":59.5,"l":1.3},{"s":"CabEqBl 2","e":41,"a":65,"l":1.15},{"s":"CabEqBl 2","e":42,"a":50.6,"l":1.7},{"s":"CabEqBl 2","e":43,"a":63,"l":1.2},{"s":"CabEqBl 2","e":44,"a":60.5,"l":1.3},{"s":"CabEqBl 2","e":45,"a":46.9,"l":2.72},{"s":"CabEqBl 2","e":46,"a":64,"l":1.15},{"s":"CabEqBl 2","e":47,"a":62.5,"l":1.25},{"s":"CabEqBl 2","e":48,"a":66.5,"l":1.1},{"s":"CabEqBl 2","e":49,"a":63,"l":1.2},
{"s":"CabEqBl 2","e":50,"a":68.5,"l":1.1},{"s":"CabEqBl 2","e":51,"a":56.2,"l":2},{"s":"CabEqBl 2","e":52,"a":67,"l":1.1},{"s":"CabEqBl 2","e":53,"a":65,"l":1.15},{"s":"CabEqBl 2","e":54,"a":69,"l":1.05},{"s":"CabEqBl 2","e":55,"a":66,"l":1.15},{"s":"CabEqBl 2","e":56,"a":70,"l":1.05},{"s":"CabEqBl 2","e":57,"a":67.5,"l":1.1},{"s":"CabEqBl 2","e":58,"a":69.5,"l":1},{"s":"CabEqBl 2","e":59,"a":71,"l":1.05},
{"s":"CabEqBl 2","e":60,"a":68.5,"l":1.1},{"s":"CabEqBl 2","e":61,"a":70.5,"l":1.05},{"s":"CabEqBl 2","e":62,"a":72,"l":1},{"s":"CabEqBl 2","e":63,"a":69.5,"l":1.05},{"s":"CabEqBl 2","e":64,"a":71.5,"l":1.02},{"s":"CabEqBl 2","e":65,"a":70,"l":1.05},{"s":"CabEqBl 2","e":66,"a":72.5,"l":1},{"s":"CabEqBl 2","e":67,"a":71,"l":1.05},{"s":"CabEqBl 2","e":68,"a":73,"l":1.3},{"s":"CabEqBl 2","e":69,"a":66.8,"l":1.74},
{"s":"CabEqBl 2","e":70,"a":72.5,"l":1.1},{"s":"CabEqBl 2","e":71,"a":73.5,"l":1.05},{"s":"CabEqBl 2","e":72,"a":71.5,"l":1.03},{"s":"CabEqBl 2","e":73,"a":73,"l":1.05},{"s":"CabEqBl 2","e":74,"a":72,"l":1.02},{"s":"CabEqBl 2","e":75,"a":73.8,"l":1.05},{"s":"CabEqBl 2","e":76,"a":72.5,"l":1.03},{"s":"CabEqBl 2","e":77,"a":74,"l":1.06},{"s":"CabEqBl 2","e":78,"a":73,"l":1.04},{"s":"CabEqBl 2","e":79,"a":74.2,"l":1.05},
{"s":"CabEqBl 2","e":80,"a":73.5,"l":1.07},{"s":"CabEqBl 2","e":81,"a":74.5,"l":1.05},{"s":"CabEqBl 2","e":82,"a":74,"l":1.07},{"s":"CabEqBl 2","e":83,"a":74.8,"l":1.06},{"s":"CabEqBl 2","e":84,"a":74.3,"l":1.08},{"s":"CabEqBl 2","e":85,"a":75,"l":1.07},{"s":"CabEqBl 2","e":86,"a":74.6,"l":1.08},{"s":"CabEqBl 2","e":87,"a":75.2,"l":1.08},{"s":"CabEqBl 2","e":88,"a":74.9,"l":1.09},{"s":"CabEqBl 2","e":89,"a":75.3,"l":1.09},
{"s":"CabEqBl 2","e":90,"a":75.1,"l":1.1},{"s":"CabEqBl 2","e":91,"a":75.4,"l":1.1},{"s":"CabEqBl 2","e":92,"a":75.3,"l":1.1},{"s":"CabEqBl 2","e":93,"a":75.5,"l":1.11},{"s":"CabEqBl 2","e":94,"a":75.4,"l":1.11},{"s":"CabEqBl 2","e":95,"a":75.6,"l":1.11},{"s":"CabEqBl 2","e":96,"a":75.5,"l":1.12},{"s":"CabEqBl 2","e":97,"a":75.6,"l":1.12},{"s":"CabEqBl 2","e":98,"a":75.5,"l":1.12},{"s":"CabEqBl 2","e":99,"a":75.6,"l":1.12},
{"s":"CabEqBl 3","e":0,"a":14,"l":7.55},{"s":"CabEqBl 3","e":1,"a":37,"l":1.6},{"s":"CabEqBl 3","e":2,"a":41.5,"l":1.75},{"s":"CabEqBl 3","e":3,"a":40,"l":1.65},{"s":"CabEqBl 3","e":4,"a":42,"l":1.6},{"s":"CabEqBl 3","e":5,"a":37.5,"l":1.75},{"s":"CabEqBl 3","e":6,"a":45,"l":1.5},{"s":"CabEqBl 3","e":7,"a":46,"l":1.45},{"s":"CabEqBl 3","e":8,"a":42.5,"l":1.6},{"s":"CabEqBl 3","e":9,"a":49,"l":1.4},
{"s":"CabEqBl 3","e":10,"a":52.5,"l":1.3},{"s":"CabEqBl 3","e":11,"a":57.5,"l":1.25},{"s":"CabEqBl 3","e":12,"a":51,"l":1.4},{"s":"CabEqBl 3","e":13,"a":56,"l":1.3},{"s":"CabEqBl 3","e":14,"a":50.5,"l":1.45},{"s":"CabEqBl 3","e":15,"a":58.5,"l":1.05},{"s":"CabEqBl 3","e":16,"a":63,"l":0.98},{"s":"CabEqBl 3","e":17,"a":60.5,"l":1.05},{"s":"CabEqBl 3","e":18,"a":62,"l":1},{"s":"CabEqBl 3","e":19,"a":59.5,"l":1.1},
{"s":"CabEqBl 3","e":20,"a":61.5,"l":1.05},{"s":"CabEqBl 3","e":21,"a":62,"l":1},{"s":"CabEqBl 3","e":22,"a":57.5,"l":1.15},{"s":"CabEqBl 3","e":23,"a":62.5,"l":1.05},{"s":"CabEqBl 3","e":24,"a":60.5,"l":1.1},{"s":"CabEqBl 3","e":25,"a":63,"l":1.05},{"s":"CabEqBl 3","e":26,"a":61,"l":1.1},{"s":"CabEqBl 3","e":27,"a":64,"l":1},{"s":"CabEqBl 3","e":28,"a":62.5,"l":1.05},{"s":"CabEqBl 3","e":29,"a":64.5,"l":1},
{"s":"CabEqBl 3","e":30,"a":61,"l":1.1},{"s":"CabEqBl 3","e":31,"a":58.5,"l":1.2},{"s":"CabEqBl 3","e":32,"a":63.5,"l":1.05},{"s":"CabEqBl 3","e":33,"a":61,"l":1.1},{"s":"CabEqBl 3","e":34,"a":66,"l":1},{"s":"CabEqBl 3","e":35,"a":64.5,"l":1.05},{"s":"CabEqBl 3","e":36,"a":66,"l":1},{"s":"CabEqBl 3","e":37,"a":64.5,"l":1.05},{"s":"CabEqBl 3","e":38,"a":67,"l":1},{"s":"CabEqBl 3","e":39,"a":63.5,"l":1.1},
{"s":"CabEqBl 3","e":40,"a":70.5,"l":0.98},{"s":"CabEqBl 3","e":41,"a":65,"l":1.05},{"s":"CabEqBl 3","e":42,"a":68,"l":1},{"s":"CabEqBl 3","e":43,"a":62.5,"l":2.2},{"s":"CabEqBl 3","e":44,"a":67.5,"l":1},{"s":"CabEqBl 3","e":45,"a":65,"l":1.1},{"s":"CabEqBl 3","e":46,"a":69,"l":1},{"s":"CabEqBl 3","e":47,"a":66.5,"l":1.05},{"s":"CabEqBl 3","e":48,"a":68,"l":1.3},{"s":"CabEqBl 3","e":49,"a":51.6,"l":2.74},
{"s":"CabEqBl 3","e":50,"a":69.5,"l":1.2},{"s":"CabEqBl 3","e":51,"a":67,"l":1},{"s":"CabEqBl 3","e":52,"a":70,"l":1.05},{"s":"CabEqBl 3","e":53,"a":64.8,"l":1.3},{"s":"CabEqBl 3","e":54,"a":70.5,"l":1},{"s":"CabEqBl 3","e":55,"a":68,"l":1.05},{"s":"CabEqBl 3","e":56,"a":71,"l":1},{"s":"CabEqBl 3","e":57,"a":69.5,"l":1.02},{"s":"CabEqBl 3","e":58,"a":71.5,"l":1},{"s":"CabEqBl 3","e":59,"a":70,"l":1.03},
{"s":"CabEqBl 3","e":60,"a":72,"l":1},{"s":"CabEqBl 3","e":61,"a":70.5,"l":1.02},{"s":"CabEqBl 3","e":62,"a":71.5,"l":1},{"s":"CabEqBl 3","e":63,"a":72.5,"l":1},{"s":"CabEqBl 3","e":64,"a":71,"l":1.02},{"s":"CabEqBl 3","e":65,"a":72.5,"l":1},{"s":"CabEqBl 3","e":66,"a":71.5,"l":1.03},{"s":"CabEqBl 3","e":67,"a":73,"l":1},{"s":"CabEqBl 3","e":68,"a":72,"l":1.02},{"s":"CabEqBl 3","e":69,"a":72.8,"l":1},
{"s":"CabEqBl 3","e":70,"a":73.2,"l":1.02},{"s":"CabEqBl 3","e":71,"a":72.5,"l":1},{"s":"CabEqBl 3","e":72,"a":73.5,"l":1.03},{"s":"CabEqBl 3","e":73,"a":72.8,"l":1.02},{"s":"CabEqBl 3","e":74,"a":73.6,"l":1.04},{"s":"CabEqBl 3","e":75,"a":73,"l":1.03},{"s":"CabEqBl 3","e":76,"a":73.8,"l":1.05},{"s":"CabEqBl 3","e":77,"a":73.4,"l":1.04},{"s":"CabEqBl 3","e":78,"a":74,"l":1.06},{"s":"CabEqBl 3","e":79,"a":73.6,"l":1.05},
{"s":"CabEqBl 3","e":80,"a":74.2,"l":1.07},{"s":"CabEqBl 3","e":81,"a":73.9,"l":1.06},{"s":"CabEqBl 3","e":82,"a":74.4,"l":1.07},{"s":"CabEqBl 3","e":83,"a":74.1,"l":1.07},{"s":"CabEqBl 3","e":84,"a":74.5,"l":1.08},{"s":"CabEqBl 3","e":85,"a":74.3,"l":1.08},{"s":"CabEqBl 3","e":86,"a":74.6,"l":1.09},{"s":"CabEqBl 3","e":87,"a":74.4,"l":1.09},{"s":"CabEqBl 3","e":88,"a":74.8,"l":1.1},{"s":"CabEqBl 3","e":89,"a":74.6,"l":1.1},
{"s":"CabEqBl 3","e":90,"a":74.9,"l":1.1},{"s":"CabEqBl 3","e":91,"a":74.7,"l":1.11},{"s":"CabEqBl 3","e":92,"a":75,"l":1.11},{"s":"CabEqBl 3","e":93,"a":74.8,"l":1.11},{"s":"CabEqBl 3","e":94,"a":75,"l":1.12},{"s":"CabEqBl 3","e":95,"a":74.9,"l":1.12},{"s":"CabEqBl 3","e":96,"a":75.1,"l":1.12},{"s":"CabEqBl 3","e":97,"a":75,"l":1.12},{"s":"CabEqBl 3","e":98,"a":75.1,"l":1.12},{"s":"CabEqBl 3","e":99,"a":75.1,"l":1.12}
]},
"hconcat":[
{"width":439,"height":483,
"mark":{"type":"line","strokeWidth":2.2,"strokeJoin":"round","clip":true},
"encoding":{
"x":{"field":"e","type":"quantitative","scale":{"domain":[-4.95,103.95],"nice":false,"zero":false},"axis":{"values":[0,20,40,60,80,100],"title":"Number of Epochs"}},
"y":{"field":"a","type":"quantitative","scale":{"domain":[7.76,79.04],"nice":false,"zero":false},"axis":{"values":[10,20,30,40,50,60,70],"title":"Accuracy"}},
"color":{"field":"s","type":"nominal","sort":null,
"scale":{"domain":["Original","CabEq 1","CabEq 2","CabEq 3","CabEqBl 1","CabEqBl 2","CabEqBl 3"],"range":["#1f77b4","#ff7f0e","#2ca02c","#d62728","#9467bd","#8c564b","#e377c2"]},
"legend":{"title":null,"orient":"bottom-right","offset":11,"direction":"vertical","symbolType":"M-2.2,0H7.2","symbolSize":100,"symbolStrokeWidth":2.2,"symbolOffset":0,"labelOffset":43,"labelFont":"DejaVu Sans","labelFontSize":22,"labelColor":"#000000","labelLimit":300,"rowPadding":12,"padding":8,"strokeColor":"#cccccc","fillColor":"rgba(255,255,255,0.8)","cornerRadius":4}}
}},
{"width":439,"height":483,
"mark":{"type":"line","strokeWidth":2.2,"strokeJoin":"round","clip":true},
"encoding":{
"x":{"field":"e","type":"quantitative","scale":{"domain":[-4.95,103.95],"nice":false,"zero":false},"axis":{"values":[0,20,40,60,80,100],"title":"Number of Epochs"}},
"y":{"field":"l","type":"quantitative","scale":{"domain":[0.42,10.98],"nice":false,"zero":false},"axis":{"values":[2,4,6,8,10],"title":"Loss"}},
"color":{"field":"s","type":"nominal","sort":null,
"scale":{"domain":["Original","CabEq 1","CabEq 2","CabEq 3","CabEqBl 1","CabEqBl 2","CabEqBl 3"],"range":["#1f77b4","#ff7f0e","#2ca02c","#d62728","#9467bd","#8c564b","#e377c2"]},
"legend":{"title":null,"orient":"top-right","offset":11,"direction":"vertical","symbolType":"M-2.2,0H7.2","symbolSize":100,"symbolStrokeWidth":2.2,"symbolOffset":0,"labelOffset":43,"labelFont":"DejaVu Sans","labelFontSize":22,"labelColor":"#000000","labelLimit":300,"rowPadding":12,"padding":8,"strokeColor":"#cccccc","fillColor":"rgba(255,255,255,0.8)","cornerRadius":4}}
}}
],
"resolve":{"legend":{"color":"independent"}}
}
